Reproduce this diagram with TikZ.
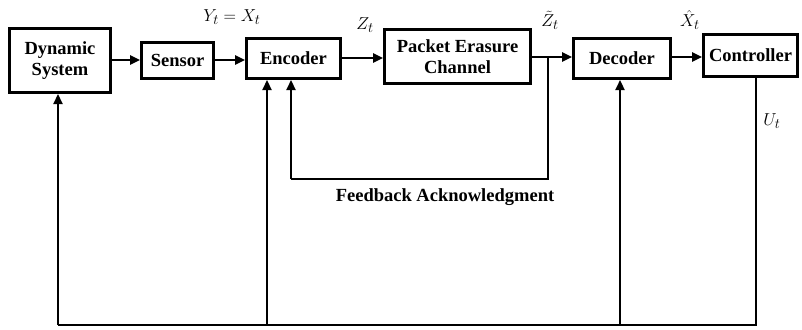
\documentclass[tikz,border=0pt]{standalone}
\usepackage{fontspec}
\setmainfont{Liberation Serif}
\usetikzlibrary{arrows.meta}

\tikzset{
  blk/.style={draw=black, line width=3pt, rectangle, inner sep=0pt,
    font=\fontsize{18.5}{21}\selectfont\bfseries, align=center},
  flow/.style={line width=2.4pt, -{Triangle[length=10pt,width=9pt]}},
  wire/.style={line width=2.2pt},
  lbl/.style={font=\fontsize{19}{21}\selectfont, inner sep=1pt},
}

\begin{document}
\begin{tikzpicture}[x=1pt, y=-1pt]
  \useasboundingbox (0,0) rectangle (802,329);

  % blocks of the loop
  \node[blk, minimum width=101pt, minimum height=64pt] (dyn) at (60,60.5) {Dynamic\\System};
  \node[blk, minimum width=72pt, minimum height=36pt] (sen) at (177.5,60.5) {Sensor};
  \node[blk, minimum width=94pt, minimum height=40pt] (enc) at (293.5,58.5) {Encoder};
  \node[blk, minimum width=146pt, minimum height=54pt] (chan) at (457.5,56.5) {Packet Erasure\\Channel};
  \node[blk, minimum width=97pt, minimum height=40pt] (dec) at (622,58.5) {Decoder};
  \node[blk, minimum width=94pt, minimum height=42pt] (ctrl) at (750.5,55.5) {Controller};

  % forward path
  \draw[flow] (dyn.east |- 0,60) -- (sen.west |- 0,60);
  \draw[flow] (sen.east |- 0,60) -- (enc.west |- 0,60);
  \draw[flow] (enc.east |- 0,58) -- (chan.west |- 0,58);
  \draw[flow] (chan.east |- 0,57) -- (dec.west |- 0,57);
  \draw[flow] (dec.east |- 0,57) -- (ctrl.west |- 0,57);

  % feedback acknowledgment from channel output back to encoder
  \coordinate (fbtap) at (548,57);
  \coordinate (fbR) at (548,179);
  \coordinate (fbL) at (291,179);
  \draw[wire] (fbtap) -- (fbR) -- (fbL);
  \draw[flow, line width=2.2pt] (fbL) -- (fbL |- enc.south);

  % control signal returned to the plant, encoder and decoder
  \coordinate (uTop) at (756,78);
  \coordinate (bR) at (756,325);
  \coordinate (bL) at (58,325);
  \coordinate (bE) at (267,325);
  \coordinate (bD) at (620,325);
  \draw[wire] (uTop |- ctrl.south) -- (bR) -- (bL);
  \draw[flow, line width=2.2pt] (bL) -- (bL |- dyn.south);
  \draw[flow, line width=2.2pt] (bE) -- (bE |- enc.south);
  \draw[flow, line width=2.2pt] (bD) -- (bD |- dec.south);

  % signal labels
  \node[lbl] (ly) at (232,17) {$Y_t = X_t$};
  \node[lbl] (lz) at (365,25) {$Z_t$};
  \node[lbl] (lzt) at (550,20) {$\tilde{Z}_t$};
  \node[lbl] (lxh) at (690,20) {$\hat{X}_t$};
  \node[lbl] (lu) at (772,121) {$U_t$};
  \node[lbl, font=\fontsize{18.5}{21}\selectfont\bfseries] (lfb) at (445,197) {Feedback Acknowledgment};
\end{tikzpicture}
\end{document}
